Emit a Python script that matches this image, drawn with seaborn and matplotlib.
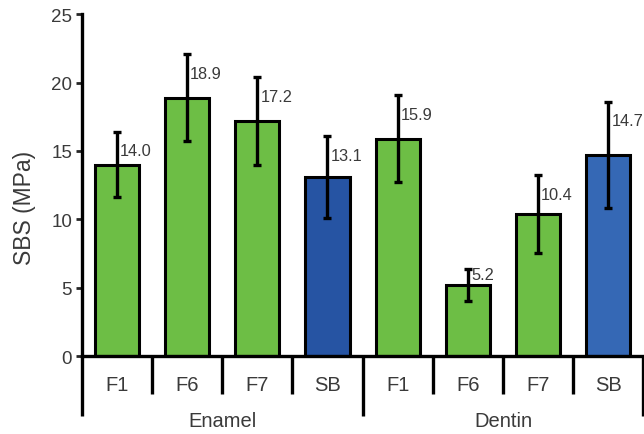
import matplotlib
matplotlib.use("Agg")
import matplotlib.pyplot as plt
import matplotlib.transforms as mtransforms
import pandas as pd
import seaborn as sns

groups = ["Enamel", "Dentin"]
materials = ["F1", "F6", "F7", "SB"]
sbs_mean = [14.0, 18.9, 17.2, 13.1, 15.9, 5.2, 10.4, 14.7]
sbs_sd = [2.4, 3.2, 3.2, 3.0, 3.2, 1.2, 2.85, 3.9]
bar_colors = ["#6dbe45", "#6dbe45", "#6dbe45", "#2654a3",
              "#6dbe45", "#6dbe45", "#6dbe45", "#3568b5"]

sns.set_style("white")
plt.rcParams["font.family"] = ["Liberation Sans", "DejaVu Sans"]
text_color = "#3a3a3a"

df = pd.DataFrame({
    "key": [f"{g} {m}" for g in groups for m in materials],
    "material": [m for g in groups for m in materials],
    "sbs": sbs_mean,
})

fig = plt.figure(figsize=(6.44, 4.35), dpi=100)
ax = fig.add_axes([0.127, 0.179, 0.872, 0.786])

sns.barplot(data=df, x="key", y="sbs", hue="key", palette=bar_colors, legend=False,
            width=0.63, edgecolor="black", linewidth=2.2, saturation=1, ax=ax)
ax.errorbar(range(len(df)), df["sbs"], yerr=sbs_sd, fmt="none", ecolor="black",
            elinewidth=2.4, capsize=3, capthick=2.4, zorder=5)

# value labels sit just right of the error bar, below the cap but above the bar
for i, (val, sd) in enumerate(zip(sbs_mean, sbs_sd)):
    y_text = max(val + sd - 1.4, val + 0.8)
    ax.annotate(f"{val:.1f}", (i, y_text), xytext=(2.2, 0), textcoords="offset points",
                ha="left", va="center", fontsize=11.8, color=text_color,
                annotation_clip=False)

ax.set_xlim(-0.5, len(df) - 0.5)
ax.set_ylim(0, 25)
ax.set_yticks([0, 5, 10, 15, 20, 25])
ax.tick_params(axis="y", direction="out", length=4, width=2, labelsize=13.5,
               labelcolor=text_color, left=True, pad=3)
ax.set_xticks([])
ax.set_xlabel("")
ax.set_ylabel("SBS (MPa)", fontsize=16.5, color=text_color)
ax.yaxis.set_label_coords(-0.081, 0.436)

sns.despine(ax=ax, top=True, right=True)
for side in ["left", "bottom"]:
    ax.spines[side].set_linewidth(2.4)
    ax.spines[side].set_color("black")

# category table below the axis
trans = mtransforms.blended_transform_factory(ax.transData, ax.transAxes)
for i in range(len(df) + 1):
    bottom = -0.175 if i % 4 == 0 else -0.111
    ax.plot([i - 0.5, i - 0.5], [0, bottom], color="black", lw=2.4,
            transform=trans, clip_on=False, solid_capstyle="butt")
for i, m in enumerate(df["material"]):
    ax.text(i, -0.082, m, transform=trans, ha="center", va="center",
            fontsize=14.5, color=text_color)
for j, g in enumerate(groups):
    ax.text(j * 4 + 1.5, -0.187, g, transform=trans, ha="center", va="center",
            fontsize=14.5, color=text_color)

fig.savefig("out.png", dpi=100)
